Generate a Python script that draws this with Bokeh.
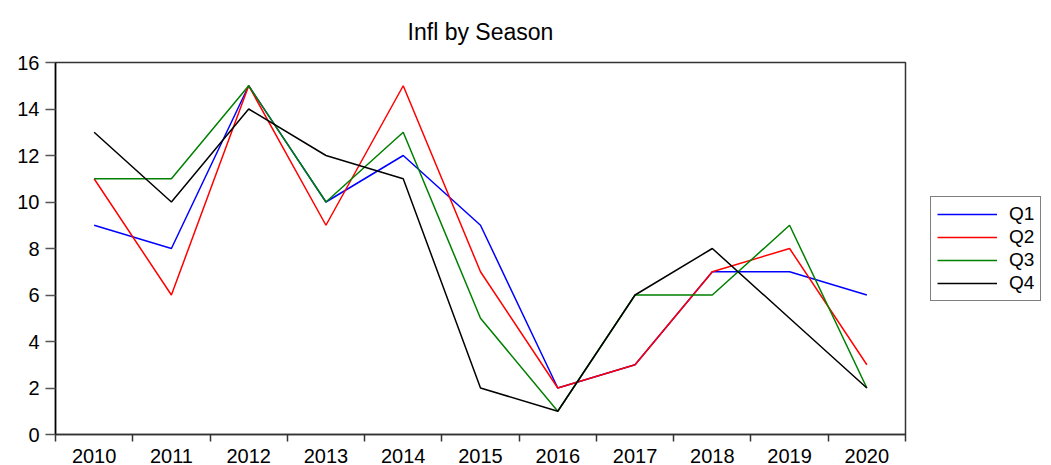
from bokeh.plotting import figure
from bokeh.layouts import row
from bokeh.models import Range1d, FixedTicker, Legend, LegendItem
from bokeh.embed import file_html
from bokeh.resources import INLINE

years = ["2010", "2011", "2012", "2013", "2014", "2015", "2016", "2017", "2018", "2019", "2020"]
q1 = [9, 8, 15, 10, 12, 9, 2, 3, 7, 7, 6]
q2 = [11, 6, 15, 9, 15, 7, 2, 3, 7, 8, 3]
q3 = [11, 11, 15, 10, 13, 5, 1, 6, 6, 9, 2]
q4 = [13, 10, 14, 12, 11, 2, 1, 6, 8, 5, 2]
series_names = ["Q1", "Q2", "Q3", "Q4"]
series_colors = ["#0000FF", "#FF0000", "#008000", "#000000"]
y_ticks = [0, 2, 4, 6, 8, 10, 12, 14, 16]

FONT = "Liberation Sans"

x = [i + 0.5 for i in range(len(years))]

p = figure(width=910, height=465, output_backend="svg", toolbar_location=None,
           x_range=Range1d(0, len(years)), y_range=Range1d(0, 16),
           min_border_left=55, min_border_right=5, min_border_top=62,
           min_border_bottom=0, title="Infl by Season")

p.title.align = "center"
p.title.vertical_align = "top"
p.title.text_font = FONT
p.title.text_font_size = "23px"
p.title.text_font_style = "normal"
p.title.text_color = "#000000"
p.title.standoff = 32

p.xgrid.visible = False
p.ygrid.visible = False
p.outline_line_color = "#333333"
p.outline_line_width = 1.5
p.background_fill_color = "white"
p.border_fill_color = "white"

# x axis: labels at category centres, tick marks at category boundaries
xa = p.xaxis[0]
xa.ticker = FixedTicker(ticks=x, minor_ticks=list(range(len(years) + 1)))
xa.major_label_overrides = {xi: yr for xi, yr in zip(x, years)}
xa.major_tick_line_color = None
xa.major_tick_in = 0
xa.major_tick_out = 0
xa.minor_tick_in = 0
xa.minor_tick_out = 7
xa.minor_tick_line_color = "#333333"
xa.minor_tick_line_width = 1.5
xa.axis_line_color = "#333333"
xa.axis_line_width = 1.5
xa.major_label_text_font = FONT
xa.major_label_text_font_size = "20px"
xa.major_label_text_color = "#000000"
xa.major_label_standoff = 7

ya = p.yaxis[0]
ya.ticker = FixedTicker(ticks=y_ticks, minor_ticks=[])
ya.major_tick_in = 0
ya.major_tick_out = 10
ya.major_tick_line_color = "#555555"
ya.major_tick_line_width = 1.5
ya.minor_tick_line_color = None
ya.axis_line_color = "#000000"
ya.axis_line_width = 1.5
ya.major_label_text_font = FONT
ya.major_label_text_font_size = "20px"
ya.major_label_text_color = "#000000"
ya.major_label_standoff = 6

data = [q1, q2, q3, q4]
for vals, col in zip(data, series_colors):
    p.line(x, vals, line_color=col, line_width=1.5)

# legend panel to the right of the plot frame
lp = figure(width=135, height=465, output_backend="svg", toolbar_location=None,
            x_range=Range1d(0, 1), y_range=Range1d(0, 1),
            min_border_left=0, min_border_right=0, min_border_top=0, min_border_bottom=0)
lp.axis.visible = False
lp.grid.visible = False
lp.outline_line_color = None
lp.background_fill_color = "white"
lp.border_fill_color = "white"

items = []
for name, col in zip(series_names, series_colors):
    # placeholder renderer kept outside the visible range; only its legend swatch shows
    r = lp.line([-2, -1], [-2, -1], line_color=col, line_width=1.5)
    items.append(LegendItem(label=name, renderers=[r]))

legend = Legend(items=items, location=(20, 133))
legend.border_line_color = "#000000"
legend.border_line_width = 1
legend.background_fill_color = "white"
legend.background_fill_alpha = 1
legend.label_text_font = FONT
legend.label_text_font_size = "19px"
legend.label_text_color = "#000000"
legend.label_text_line_height = 1.0
legend.glyph_width = 60
legend.glyph_height = 18
legend.label_height = 18
legend.label_standoff = 12
legend.padding = 6
legend.spacing = 1
legend.margin = 0
lp.add_layout(legend)

layout = row(p, lp)
open("out.html", "w").write(file_html(layout, INLINE))
